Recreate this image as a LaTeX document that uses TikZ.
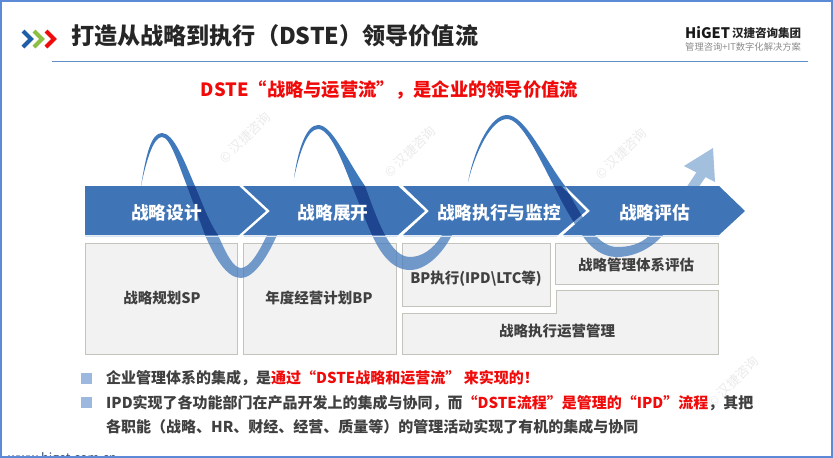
\documentclass[tikz,border=0pt]{standalone}
\usepackage{fontspec}
\setmainfont{Noto Sans CJK SC}
\usetikzlibrary{calc}
\definecolor{chev}{HTML}{3F75B6}
\definecolor{wave}{HTML}{3F78BB}
\definecolor{wavedark}{HTML}{1E4690}
\definecolor{wavelight}{HTML}{A3BFDE}
\definecolor{boxfill}{HTML}{F2F2F2}
\definecolor{boxline}{HTML}{C4C4BC}
\definecolor{txt}{HTML}{404040}
\definecolor{redtxt}{HTML}{F00A0A}
\definecolor{frameblue}{HTML}{5C8AD6}
\definecolor{ruleblue}{HTML}{5F90C8}
\definecolor{bullet}{HTML}{9DB8DE}
\definecolor{markgrey}{HTML}{EBEBEB}
\definecolor{iconblue}{HTML}{1F5FA8}
\definecolor{icongreen}{HTML}{8DBF45}
\definecolor{webblue}{HTML}{325078}
\newcommand{\chevA}{(85,186) -- (239,186) -- (266,211) -- (239,235) -- (85,235) -- cycle}
\newcommand{\chevB}{(243,186) -- (398,186) -- (425,211) -- (398,235) -- (243,235) -- (270,211) -- cycle}
\newcommand{\chevC}{(403,186) -- (561,186) -- (586,211) -- (558,235) -- (403,235) -- (429,211) -- cycle}
\newcommand{\chevD}{(565,186) -- (719,186) -- (745,211) -- (719,235) -- (563,235) -- (590,211) -- cycle}
\newcommand{\waveA}{(141,186) .. controls (146,155) and (151,133) .. (162,133) .. controls (174,133) and (185,163) .. (195,186) .. controls (203,205) and (209,222) .. (218,235) .. controls (226,253) and (233,268) .. (241,268) .. controls (250,268) and (260,250) .. (267,235) -- (277,235) .. controls (268,256) and (254,278) .. (241,278) .. controls (226,278) and (214,256) .. (205,235) .. controls (200,221) and (194,205) .. (187,186) .. controls (178,163) and (170,137) .. (162,137) .. controls (154,137) and (147,157) .. (141,186) -- cycle}
\newcommand{\waveB}{(294,178) .. controls (298,150) and (306,125) .. (318,125) .. controls (332,125) and (345,157) .. (365,186) .. controls (372,205) and (378,222) .. (385,235) .. controls (392,248) and (400,257) .. (410,257) .. controls (421,257) and (433,250) .. (442,235) -- (452,235) .. controls (441,256) and (425,270) .. (410,270) .. controls (393,270) and (381,255) .. (372,235) .. controls (366,222) and (360,205) .. (352,186) .. controls (342,160) and (330,129) .. (318,129) .. controls (308,129) and (300,150) .. (294,178) -- cycle}
\newcommand{\waveC}{(468,182) .. controls (474,150) and (490,115) .. (507,115) .. controls (525,115) and (545,160) .. (565,186) .. controls (575,205) and (585,222) .. (595,235) .. controls (602,243) and (610,247) .. (617,247) .. controls (628,247) and (640,245) .. (650,235) -- (663,235) .. controls (650,250) and (632,257) .. (617,257) .. controls (604,257) and (592,250) .. (582,235) .. controls (572,220) and (563,205) .. (554,186) .. controls (540,160) and (522,119) .. (507,119) .. controls (492,119) and (476,150) .. (468,182) -- cycle}
\tikzset{
  x=1pt,y=-1pt,
  sbox/.style={fill=boxfill,draw=boxline,line width=0.7pt},
  boxtxt/.style={font=\bfseries\fontsize{14.5}{16}\selectfont,text=txt,inner sep=0pt},
  chevtxt/.style={font=\bfseries\fontsize{17.7}{19}\selectfont,text=white,inner sep=0pt},
  listtxt/.style={font=\bfseries\fontsize{15}{17}\selectfont,text=txt,inner sep=0pt,anchor=west},
  wm/.style={font=\fontsize{13}{15}\selectfont,text=markgrey,rotate=45,inner sep=0pt},
  bul/.style={fill=bullet},
  icon/.style={line width=4pt,miter limit=10},
}
\begin{document}
\begin{tikzpicture}
\useasboundingbox (0,0) rectangle (833,458);
\fill[white] (0,0) rectangle (833,458);
\begin{scope}
\clip (0,0) rectangle (833,458);
% watermarks
\node[wm] (m1) at (245,138) {© 汉捷咨询};
\node[wm] (m2) at (410,152) {© 汉捷咨询};
\node[wm] (m3) at (621,154) {© 汉捷咨询};
\node[wm] (m4) at (733,382) {© 汉捷咨询};
% header
\draw[ruleblue,line width=1.2pt] (52,61.5) -- (808,61.5);
\draw[icon,iconblue] (23,31) -- (31,39) -- (23,47);
\draw[icon,icongreen] (34,31) -- (42,39) -- (34,47);
\draw[icon,redtxt] (46,31) -- (54,39) -- (46,47);
\node[anchor=west,inner sep=0pt,font=\bfseries\fontsize{23.1}{25}\selectfont,text=black!85] (title) at (71,36) {打造从战略到执行（DSTE）领导价值流};
\node[anchor=west,inner sep=0pt,font=\bfseries\fontsize{14.5}{16}\selectfont,text=black!90] (logoa) at (685,33) {HiGET};
\node[anchor=west,inner sep=0pt,font=\bfseries\fontsize{11.5}{14}\selectfont,text=black!85] (logob) at (732,33) {汉捷咨询集团};
\node[anchor=west,inner sep=0pt,font=\fontsize{9.3}{11}\selectfont,text=black!45] (logoc) at (685,47) {管理咨询+IT数字化解决方案};
\node[inner sep=0pt,font=\bfseries\fontsize{18.3}{20}\selectfont,text=redtxt] (head) at (389.5,90) {DSTE“战略与运营流”，是企业的领导价值流};
% boxes
\path[sbox] (85,243) rectangle (237,354);
\path[sbox] (243,243) rectangle (396,354);
\path[sbox] (402,243) rectangle (550,306);
\path[sbox] (555,243) rectangle (718,284);
\path[sbox] (556,290) -- (718,290) -- (718,354) -- (402,354) -- (402,313) -- (556,313) -- cycle;
% wave above chevrons: solid
\begin{scope}
\clip (0,0) rectangle (833,186);
\fill[wave] \waveA; \fill[wave] \waveB; \fill[wave] \waveC;
\end{scope}
% wave below: translucent
\begin{scope}
\clip (0,186) rectangle (833,458);
\fill[wave,opacity=.72] \waveA; \fill[wave,opacity=.72] \waveB; \fill[wave,opacity=.72] \waveC;
\end{scope}
% rising end and arrowhead
\fill[wavelight] (686,188) -- (698,170) -- (707,175) -- (698,188) -- cycle;
\fill[wavelight] (713,148) -- (684,166) -- (715,182) -- cycle;
% chevrons
\fill[chev] \chevA; \fill[chev] \chevB; \fill[chev] \chevC; \fill[chev] \chevD;
\draw[wavelight!45,line width=0.8pt] (85,236) -- (238,236) (244,236) -- (397,236) (404,236) -- (557,236) (564,236) -- (719,236);
% dark overlaps
\begin{scope}\clip \chevA; \fill[wavedark] \waveA; \end{scope}
\begin{scope}\clip \chevB; \fill[wavedark] \waveB; \end{scope}
\begin{scope}\clip \chevC; \fill[wavedark] \waveC; \end{scope}
% chevron labels
\node[chevtxt] (c1) at (166.5,213) {战略设计};
\node[chevtxt] (c2) at (333,213) {战略展开};
\node[chevtxt] (c3) at (499,213) {战略执行与监控};
\node[chevtxt] (c4) at (654.5,213) {战略评估};
% box labels
\node[boxtxt] (b1) at (162,298) {战略规划SP};
\node[boxtxt] (b2) at (319,298) {年度经营计划BP};
\node[boxtxt] (b3) at (476,279) {BP执行(IPD\textbackslash LTC等)};
\node[boxtxt] (b4) at (636,265) {战略管理体系评估};
\node[boxtxt] (b5) at (557,331) {战略执行运营管理};
% bullets
\fill[bul] (81,373) rectangle (92,384);
\fill[bul] (81,397) rectangle (92,408);
\node[listtxt] (l1) at (106,378.5) {企业管理体系的集成，是\textcolor{redtxt}{通过“DSTE战略和运营流” 来实现的！}};
\node[listtxt] (l2) at (106,403) {IPD实现了各功能部门在产品开发上的集成与协同，而\textcolor{redtxt}{“DSTE流程”是管理的“IPD”流程}，其把};
\node[listtxt] (l3) at (106,427) {各职能（战略、HR、财经、经营、质量等）的管理活动实现了有机的集成与协同};
\node[anchor=west,inner sep=0pt,font=\fontsize{12.5}{14}\selectfont,text=webblue] (web) at (8,459) {www.higet.com.cn};
\end{scope}
% frame
\draw[frameblue,line width=1.6pt] (0.8,0.8) rectangle (832.2,457.2);
\end{tikzpicture}
\end{document}
